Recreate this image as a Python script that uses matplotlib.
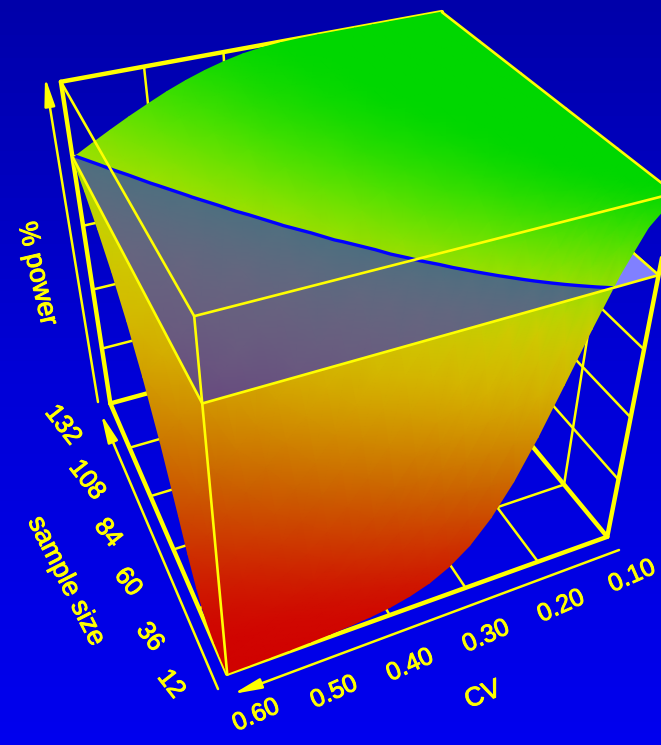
import numpy as np
import matplotlib
matplotlib.use('Agg')
import matplotlib.pyplot as plt
import matplotlib.patheffects as pe
from matplotlib.colors import LinearSegmentedColormap

# Data
cv_vals = np.round(np.arange(0.10, 0.601, 0.025), 3)
n_vals = np.array([12,14,16,18,20,22,24,28,32,36,42,48,60,72,84,96,108,120,132])
power = np.array([
[98.8,93.2,83.1,70.3,56.6,43.2,31.4,21.9,14.8,9.9,6.5,4.3,2.8,1.9,1.3,0.9,0.6,0.4,0.3,0.2,0.1],
[99.6,96.3,88.8,78.3,66.2,53.6,41.4,30.5,21.6,14.8,10.0,6.6,4.3,2.8,1.9,1.2,0.8,0.6,0.4,0.3,0.2],
[99.9,98.0,92.6,84.0,73.5,62.1,50.4,39.2,29.2,20.9,14.5,9.8,6.5,4.3,2.8,1.8,1.2,0.8,0.5,0.4,0.2],
[100.0,99.0,95.1,88.2,79.1,68.9,58.0,47.2,36.9,27.7,20.0,14.0,9.5,6.3,4.2,2.7,1.8,1.2,0.8,0.5,0.3],
[100.0,99.5,96.8,91.3,83.5,74.3,64.3,54.0,43.9,34.4,26.0,18.9,13.3,9.1,6.1,4.0,2.6,1.7,1.1,0.7,0.5],
[100.0,99.7,97.9,93.6,86.9,78.7,69.5,59.9,50.2,40.8,32.0,24.2,17.7,12.5,8.6,5.8,3.8,2.5,1.6,1.1,0.7],
[100.0,99.9,98.7,95.3,89.6,82.3,73.9,65.0,55.8,46.6,37.8,29.7,22.5,16.5,11.7,8.1,5.5,3.6,2.4,1.6,1.0],
[100.0,100.0,99.5,97.5,93.5,87.7,80.7,73.0,64.8,56.4,48.1,40.0,32.3,25.3,19.2,14.1,10.0,7.0,4.7,3.2,2.1],
[100.0,100.0,99.8,98.7,96.0,91.5,85.7,79.0,71.8,64.2,56.4,48.7,41.2,34.1,27.4,21.4,16.2,11.9,8.5,5.9,4.0],
[100.0,100.0,99.9,99.3,97.5,94.2,89.4,83.7,77.2,70.4,63.3,56.1,48.9,41.9,35.2,28.9,23.1,17.9,13.5,9.9,7.1],
[100.0,100.0,100.0,99.8,98.8,96.7,93.3,88.7,83.4,77.6,71.3,64.9,58.3,51.8,45.4,39.2,33.2,27.6,22.4,17.7,13.6],
[100.0,100.0,100.0,99.9,99.4,98.2,95.7,92.3,87.9,82.9,77.5,71.7,65.8,59.8,53.8,47.9,42.1,36.5,31.2,26.2,21.5],
[100.0,100.0,100.0,100.0,99.9,99.4,98.4,96.4,93.6,90.0,85.9,81.4,76.6,71.6,66.4,61.2,56.0,50.9,45.9,41.0,36.2],
[100.0,100.0,100.0,100.0,100.0,99.8,99.4,98.4,96.7,94.2,91.2,87.7,83.8,79.6,75.3,70.8,66.2,61.6,57.0,52.5,48.0],
[100.0,100.0,100.0,100.0,100.0,100.0,99.8,99.3,98.3,96.7,94.5,91.9,88.7,85.3,81.6,77.8,73.8,69.7,65.6,61.4,57.3],
[100.0,100.0,100.0,100.0,100.0,100.0,99.9,99.7,99.1,98.1,96.6,94.7,92.2,89.4,86.3,83.0,79.5,75.9,72.2,68.5,64.8],
[100.0,100.0,100.0,100.0,100.0,100.0,100.0,99.9,99.6,99.0,98.0,96.5,94.6,92.4,89.8,87.0,83.9,80.8,77.5,74.1,70.7],
[100.0,100.0,100.0,100.0,100.0,100.0,100.0,99.9,99.8,99.4,98.8,97.7,96.3,94.5,92.4,90.0,87.4,84.6,81.7,78.7,75.6],
[100.0,100.0,100.0,100.0,100.0,100.0,100.0,100.0,99.9,99.7,99.3,98.6,97.5,96.1,94.4,92.4,90.1,87.7,85.1,82.4,79.6],
])
target_power = 80
cv_ticks = [.6, .5, .4, .3, .2, .1]
n_ticks = [12, 36, 60, 84, 108, 132]
power_ticks = [0, 20, 40, 60, 80, 100]
cv_labels = ['0.60', '0.50', '0.40', '0.30', '0.20', '0.10']
n_labels = ['12', '36', '60', '84', '108', '132']

W, H = 661, 745
fig = plt.figure(figsize=(W/100, H/100), dpi=100)
ax = fig.add_axes([0, 0, 1, 1])
ax.set_xlim(0, W); ax.set_ylim(H, 0); ax.axis('off')
bg = np.linspace(0, 1, 64).reshape(-1, 1)
ax.imshow(bg, extent=(0, W, H, 0), aspect='auto', zorder=0,
          cmap=LinearSegmentedColormap.from_list('b', [(0, 0, 170/255), (0, 0, 215/255), (0, 0, 238/255)]))

# Perspective camera fitted to the box seen in the picture
calib = [((.6,12,0),(228,677)),((.1,12,0),(607,540)),((.6,132,0),(110,403)),((.1,132,0),(427,316)),
((.6,12,100),(195,315)),((.1,12,100),(676,193)),((.6,132,100),(60,82)),((.1,132,100),(442,12)),
((.6,12,80),(204,402)),((.1,12,80),(658,275)),((.6,132,80),(72,155)),
((.3,12,0),(465,587)),((.2,12,0),(538,560)),((.4,12,0),(388,613)),
((.5,132,100),(143,68)),((.4,132,100),(223,53)),((.6,132,60),(83,227)),((.6,132,40),(93,290)),((.6,132,20),(103,348)),
((.1,36,0),(563,485))]
A = []
for (c, n, p), (u, v) in calib:
    X = [c, n/100, p/100, 1]
    A.append(X + [0, 0, 0, 0] + [-u/100*x for x in X])
    A.append([0, 0, 0, 0] + X + [-v/100*x for x in X])
P = np.linalg.svd(np.array(A))[2][-1].reshape(3, 4)

def project(c, n, p):
    c, n, p = np.asarray(c, float), np.asarray(n, float), np.asarray(p, float)
    h = [P[i, 0]*c + P[i, 1]*n/100 + P[i, 2]*p/100 + P[i, 3] for i in range(3)]
    return 100*h[0]/h[2], 100*h[1]/h[2]

YEL = (1, 1, 0)
def seg(a, b, lw, z):
    x0, y0 = project(*a); x1, y1 = project(*b)
    ax.plot([x0, x1], [y0, y1], color=YEL, lw=lw, zorder=z, solid_capstyle='round')

CVL, CVH, NL, NH = .6, .1, 12, 132
G = 1.8
for c in cv_ticks[1:-1]:
    seg((c, NL, 0), (c, NH, 0), G, 2); seg((c, NH, 0), (c, NH, 100), G, 2)
for n in n_ticks[1:-1]:
    seg((CVL, n, 0), (CVH, n, 0), G, 2); seg((CVH, n, 0), (CVH, n, 100), G, 2)
for p in power_ticks[1:-1]:
    seg((CVL, NH, p), (CVH, NH, p), G, 2); seg((CVH, NL, p), (CVH, NH, p), G, 2)
T = 3.2
seg((CVL, NH, 100), (CVH, NH, 100), T, 2.5); seg((CVL, NH, 0), (CVL, NH, 100), T, 2.5)
seg((CVL, NH, 0), (CVH, NH, 0), T, 2.5); seg((CVH, NL, 0), (CVH, NH, 0), T, 2.5)
seg((CVL, NL, 0), (CVH, NL, 0), T, 2.5); seg((CVL, NL, 0), (CVL, NH, 0), T, 2.5)
seg((CVH, NL, 0), (CVH, NL, 100), T, 2.5); seg((CVH, NH, 0), (CVH, NH, 100), G, 2)

cc, nn = np.meshgrid(cv_vals, n_vals)
Xs, Ys = project(cc, nn, power)
Xp, Yp = project(cc, nn, target_power*np.ones_like(power))
xq, yq = project([CVL, CVH, CVH, CVL], [NL, NL, NH, NH], [target_power]*4)
ax.fill(xq, yq, color=(128/255, 128/255, 1), zorder=3, lw=0)
seg((CVH, NL, target_power), (CVH, NH, target_power), G, 3.5)

cmap = LinearSegmentedColormap.from_list('pw', [
    (0, (208/255, 2/255, 0)), (.3, (203/255, 100/255, 0)), (.55, (213/255, 180/255, 0)),
    (.7, (205/255, 205/255, 0)), (.8, (160/255, 225/255, 0)), (.9, (80/255, 225/255, 0)), (1, (0, 215/255, 0))])
o = np.arange(len(n_vals))[::-1]
ax.pcolormesh(Xs[o], Ys[o], power[o], shading='gouraud', cmap=cmap, vmin=0, vmax=100, zorder=4)
ax.contourf(Xp, Yp, power, levels=[-1, target_power], colors=[(0, 0, 1)], alpha=.5, zorder=5, antialiased=False)
ax.contour(Xp, Yp, power, levels=[target_power], colors=[(0, 0, 1)], linewidths=2.4, zorder=6)

F = 1.9
seg((CVL, NL, 0), (CVL, NL, 100), F, 7); seg((CVL, NL, 100), (CVH, NL, 100), F, 7)
seg((CVL, NL, 100), (CVL, NH, 100), F, 7); seg((CVH, NL, 100), (CVH, NH, 100), F, 7)
seg((CVL, NL, target_power), (CVH, NL, target_power), F, 7)
seg((CVL, NL, target_power), (CVL, NH, target_power), F, 7)

def arrow(a, b):
    ax.annotate('', xy=b, xytext=a, zorder=8,
                arrowprops=dict(arrowstyle='-|>,head_length=1.2,head_width=.22', color=YEL, lw=1.8,
                                shrinkA=0, shrinkB=0, mutation_scale=14))
arrow((98, 402), (45, 77)); arrow((218, 689), (101, 414)); arrow((619, 550), (233, 694))

fam = 'Liberation Sans'
st = [pe.withStroke(linewidth=.7, foreground=YEL)]
kw = dict(color=YEL, family=fam, ha='center', va='center', rotation_mode='anchor', zorder=9, path_effects=st)
for s, x, y in zip(cv_labels, [256, 334, 410, 486, 561, 632], [715, 692, 665, 636, 606, 576]):
    ax.text(x, y, s, fontsize=18, rotation=24, **kw)
for s, x, y in zip(n_labels, [171, 150, 128, 108, 87, 63], [684, 637, 582, 533, 480, 425]):
    ax.text(x, y, s, fontsize=18.5, rotation=-52, **kw)
ax.text(483, 695, 'CV', fontsize=19, rotation=22, **kw)
ax.text(66, 581, 'sample size', fontsize=19.3, rotation=-63, **kw)
ax.text(37, 274, '% power', fontsize=19.5, rotation=-77, **kw)
fig.savefig('out.png', dpi=100)
